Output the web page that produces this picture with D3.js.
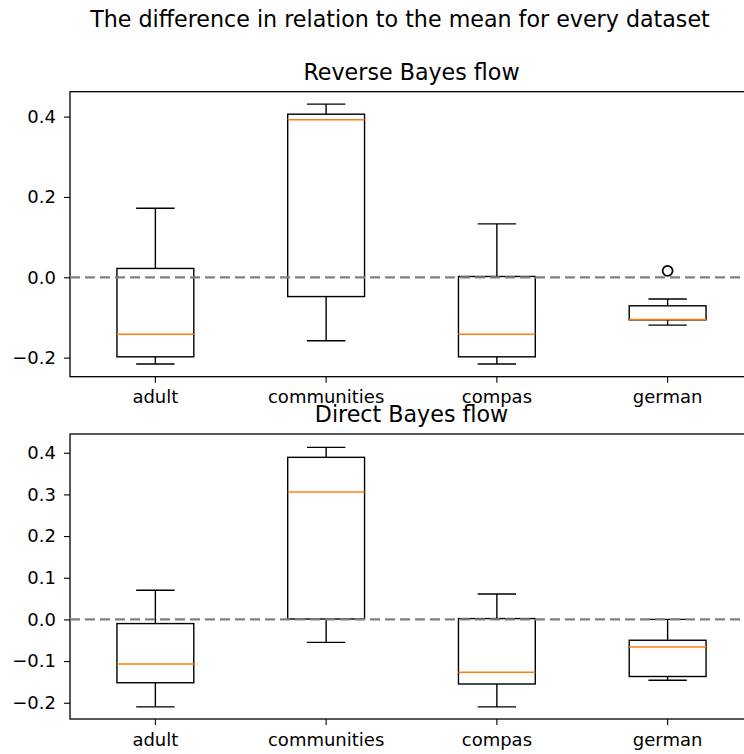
<!DOCTYPE html>
<html>
<head>
<meta charset="utf-8">
<script src="https://cdn.jsdelivr.net/npm/d3@7"></script>
<style>
  body { margin: 0; background: #fff; }
  svg { display: block; font-family: "DejaVu Sans", sans-serif; }
  .tick text { fill: #000; }
</style>
</head>
<body>
<svg id="chart" width="744" height="754"></svg>
<script>
// datasets on the x axis
const datasets = ["adult", "communities", "compas", "german"];

// Reverse Bayes flow: box stats per dataset
const reverseLow    = [-0.216, -0.158, -0.216, -0.119];
const reverseQ1     = [-0.198, -0.048, -0.198, -0.106];
const reverseMedian = [-0.142,  0.392, -0.142, -0.105];
const reverseQ3     = [ 0.022,  0.406,  0.002, -0.071];
const reverseHigh   = [ 0.172,  0.431,  0.133, -0.054];
const reverseOutliers = [[], [], [], [0.016]];
const reverseTicks = [-0.2, 0.0, 0.2, 0.4];

// Direct Bayes flow
const directLow    = [-0.210, -0.055, -0.210, -0.146];
const directQ1     = [-0.152,  0.001, -0.155, -0.137];
const directMedian = [-0.107,  0.306, -0.127, -0.066];
const directQ3     = [-0.010,  0.389,  0.002, -0.050];
const directHigh   = [ 0.070,  0.413,  0.061,  0.000];
const directOutliers = [[], [], [], []];
const directTicks = [-0.2, -0.1, 0.0, 0.1, 0.2, 0.3, 0.4];

const svg = d3.select("#chart");
const fmt = d3.format(".1f");

svg.append("text")
    .attr("x", 400)
    .attr("y", 27)
    .attr("text-anchor", "middle")
    .style("font-size", "22.2px")
    .text("The difference in relation to the mean for every dataset");

function drawPanel(opts) {
    const left = 70, right = 753;
    const xScale = d3.scaleBand().domain(datasets).range([left, right]);
    const yScale = d3.scaleLinear().domain(opts.domain).range([opts.bottom, opts.top]);
    const bw = xScale.bandwidth() * 0.45;
    const cx = d => xScale(d) + xScale.bandwidth() / 2;

    const g = svg.append("g");

    // title
    g.append("text")
        .attr("x", (left + right) / 2)
        .attr("y", opts.top - 12)
        .attr("text-anchor", "middle")
        .style("font-size", "22.2px")
        .text(opts.title);

    // axes
    const yAxis = g.append("g")
        .attr("transform", "translate(" + left + ",0)")
        .call(d3.axisLeft(yScale).tickValues(opts.ticks).tickFormat(fmt).tickSize(6).tickPadding(8));
    const xAxis = g.append("g")
        .attr("transform", "translate(0," + opts.bottom + ")")
        .call(d3.axisBottom(xScale).tickSize(6).tickPadding(8));
    [yAxis, xAxis].forEach(a => {
        a.select(".domain").remove();
        a.selectAll(".tick line").attr("stroke", "#000").attr("stroke-width", 1.1);
        a.selectAll(".tick text").style("font-size", "18px").attr("font-family", null);
        a.attr("font-family", null).attr("font-size", null);
    });

    // spines
    g.append("rect")
        .attr("x", left)
        .attr("y", opts.top)
        .attr("width", right - left)
        .attr("height", opts.bottom - opts.top)
        .attr("fill", "none")
        .attr("stroke", "#000")
        .attr("stroke-width", 1.3);

    const rows = datasets.map((d, i) => ({
        name: d, low: opts.low[i], q1: opts.q1[i], med: opts.median[i],
        q3: opts.q3[i], high: opts.high[i], out: opts.outliers[i]
    }));

    const box = g.selectAll(".box").data(rows).enter().append("g").attr("class", "box");
    const sw = 1.4;

    // whiskers
    box.append("line")
        .attr("x1", d => cx(d.name)).attr("x2", d => cx(d.name))
        .attr("y1", d => yScale(d.q3)).attr("y2", d => yScale(d.high))
        .attr("stroke", "#000").attr("stroke-width", sw);
    box.append("line")
        .attr("x1", d => cx(d.name)).attr("x2", d => cx(d.name))
        .attr("y1", d => yScale(d.q1)).attr("y2", d => yScale(d.low))
        .attr("stroke", "#000").attr("stroke-width", sw);
    // caps
    ["high", "low"].forEach(k => {
        box.append("line")
            .attr("x1", d => cx(d.name) - bw / 4).attr("x2", d => cx(d.name) + bw / 4)
            .attr("y1", d => yScale(d[k])).attr("y2", d => yScale(d[k]))
            .attr("stroke", "#000").attr("stroke-width", sw);
    });
    // box
    box.append("rect")
        .attr("x", d => cx(d.name) - bw / 2)
        .attr("width", bw)
        .attr("y", d => yScale(d.q3))
        .attr("height", d => yScale(d.q1) - yScale(d.q3))
        .attr("fill", "none")
        .attr("stroke", "#000").attr("stroke-width", sw);
    // median
    box.append("line")
        .attr("x1", d => cx(d.name) - bw / 2).attr("x2", d => cx(d.name) + bw / 2)
        .attr("y1", d => yScale(d.med)).attr("y2", d => yScale(d.med))
        .attr("stroke", "#ff7f0e").attr("stroke-width", 1.5);
    // fliers
    box.selectAll("circle").data(d => d.out.map(v => ({ name: d.name, v: v }))).enter()
        .append("circle")
        .attr("cx", d => cx(d.name))
        .attr("cy", d => yScale(d.v))
        .attr("r", 5)
        .attr("fill", "none")
        .attr("stroke", "#000")
        .attr("stroke-width", 1.7);

    // zero reference line
    g.append("line")
        .attr("x1", left).attr("x2", right)
        .attr("y1", yScale(0)).attr("y2", yScale(0))
        .attr("stroke", "#808080")
        .attr("stroke-width", 2.2)
        .attr("stroke-dasharray", "10,5");
}

drawPanel({
    title: "Reverse Bayes flow",
    top: 91.7, bottom: 376.7, domain: [-0.2475, 0.462], ticks: reverseTicks,
    low: reverseLow, q1: reverseQ1, median: reverseMedian, q3: reverseQ3,
    high: reverseHigh, outliers: reverseOutliers
});

drawPanel({
    title: "Direct Bayes flow",
    top: 434, bottom: 719, domain: [-0.239, 0.445], ticks: directTicks,
    low: directLow, q1: directQ1, median: directMedian, q3: directQ3,
    high: directHigh, outliers: directOutliers
});
</script>
</body>
</html>
